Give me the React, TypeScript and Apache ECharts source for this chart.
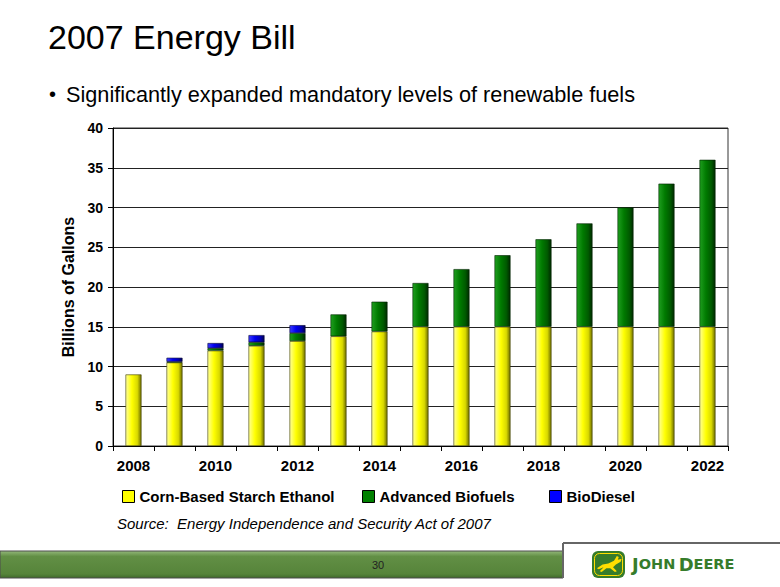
import React, { useEffect, useRef } from "react";
import * as echarts from "echarts";

const years = ["2008","2009","2010","2011","2012","2013","2014","2015","2016","2017","2018","2019","2020","2021","2022"];
const cornEthanol = [9.0, 10.5, 12.0, 12.6, 13.2, 13.8, 14.4, 15, 15, 15, 15, 15, 15, 15, 15];
const advancedBiofuels = [0, 0.1, 0.3, 0.45, 1.0, 2.75, 3.75, 5.5, 7.25, 9.0, 11.0, 13.0, 15.0, 18.0, 21.0];
const bioDiesel = [0, 0.5, 0.65, 0.9, 1.0, 0, 0, 0, 0, 0, 0, 0, 0, 0, 0];
const seriesNames = ["Corn-Based Starch Ethanol", "Advanced Biofuels", "BioDiesel"];
const yTicks = { min: 0, max: 40, interval: 5 };

const FONT = "Arial, 'Liberation Sans', Helvetica, sans-serif";

const deerPath =
  "M2 14 L8 10 L14 9 L20 6 L23 1 L25 2 L24 5 L28 4 L27 7 L22 10 L19 13 L23 17 L21 18 L16 14 L12 14 L7 18 L5 17 L9 13 L4 15 Z";
echarts.graphic.registerShape("deer", (echarts.graphic as any).extendPath(deerPath, {}));

function grad(stops: [number, string][]) {
  return new echarts.graphic.LinearGradient(0, 0, 1, 0, stops.map(([offset, color]) => ({ offset, color })));
}

const nz = (arr: number[]) => arr.map((v) => (v === 0 ? null : v));

export default function App() {
  const ref = useRef<HTMLDivElement>(null);
  useEffect(() => {
    if (!ref.current) return;
    const chart = echarts.init(ref.current, undefined, { renderer: "svg" });
    const yellow = grad([[0, "#ffff99"], [0.4, "#ffff00"], [0.75, "#d9d900"], [1, "#6e6e00"]]);
    const green = grad([[0, "#1f9f1f"], [0.4, "#007a00"], [0.75, "#005a00"], [1, "#002a00"]]);
    const blue = grad([[0, "#3a3aff"], [0.4, "#0000ee"], [0.75, "#0000b0"], [1, "#000055"]]);
    const legendItem = (name: string, color: string, left: number) => ({
      show: true,
      left,
      top: 484,
      itemWidth: 12,
      itemHeight: 12,
      itemGap: 6,
      data: [{ name, icon: "rect", itemStyle: { color, borderColor: "#000", borderWidth: 1 } }],
      textStyle: { fontFamily: FONT, fontWeight: "bold", fontSize: 15, color: "#000" },
    });
    chart.setOption({
      animation: false,
      backgroundColor: "#ffffff",
      grid: { left: 113, right: 52, top: 128, bottom: 141, show: true, borderColor: "#333", borderWidth: 1 },
      legend: [
        legendItem(seriesNames[0], "#ffff00", 117),
        legendItem(seriesNames[1], "#008000", 357),
        legendItem(seriesNames[2], "#0000ff", 544),
      ],
      xAxis: {
        type: "category",
        data: years,
        axisLine: { lineStyle: { color: "#000", width: 1 } },
        axisTick: { show: true, interval: 0, length: 5, lineStyle: { color: "#000" } },
        axisLabel: { interval: 1, fontFamily: FONT, fontWeight: "bold", fontSize: 15, color: "#000", margin: 12 },
      },
      yAxis: {
        type: "value",
        min: yTicks.min,
        max: yTicks.max,
        interval: yTicks.interval,
        name: "Billions of Gallons",
        nameLocation: "middle",
        nameGap: 37,
        nameTextStyle: { fontFamily: FONT, fontWeight: "bold", fontSize: 16, color: "#000" },
        axisLine: { show: true, lineStyle: { color: "#000" } },
        axisTick: { show: true, length: 5, lineStyle: { color: "#000" } },
        axisLabel: { fontFamily: FONT, fontWeight: "bold", fontSize: 14, color: "#000", margin: 10 },
        splitLine: { show: true, lineStyle: { color: "#222", width: 1 } },
      },
      series: [
        { name: seriesNames[0], type: "bar", stack: "t", barWidth: 16, data: nz(cornEthanol), itemStyle: { color: yellow, borderColor: "#3a3a00", borderWidth: 0.6 } },
        { name: seriesNames[1], type: "bar", stack: "t", barWidth: 16, data: nz(advancedBiofuels), itemStyle: { color: green, borderColor: "#002200", borderWidth: 0.6 } },
        { name: seriesNames[2], type: "bar", stack: "t", barWidth: 16, data: nz(bioDiesel), itemStyle: { color: blue, borderColor: "#000033", borderWidth: 0.6 } },
      ],
      graphic: [
        { type: "text", left: 48, top: 20, style: { text: "2007 Energy Bill", font: `34px ${FONT}`, fill: "#000" } },
        { type: "text", left: 49, top: 84, style: { text: "•", font: `20px ${FONT}`, fill: "#000" } },
        { type: "text", left: 66, top: 83, style: { text: "Significantly expanded mandatory levels of renewable fuels", font: `21.7px ${FONT}`, fill: "#000" } },
        { type: "text", left: 117, top: 516, style: { text: "Source:  Energy Independence and Security Act of 2007", font: `italic 15px ${FONT}`, fill: "#000" } },
        {
          type: "rect",
          shape: { x: 0, y: 551, width: 563, height: 27 },
          style: {
            fill: new echarts.graphic.LinearGradient(0, 0, 0, 1, [
              { offset: 0, color: "#93b87a" },
              { offset: 0.2, color: "#628f45" },
              { offset: 0.85, color: "#56843a" },
              { offset: 1, color: "#3f6a2a" },
            ]),
            stroke: "#4d4d4d",
            lineWidth: 1,
          },
        },
        { type: "line", shape: { x1: 563, y1: 543, x2: 780, y2: 543 }, style: { stroke: "#666", lineWidth: 2 } },
        { type: "line", shape: { x1: 563, y1: 543, x2: 563, y2: 578 }, style: { stroke: "#666", lineWidth: 2 } },
        { type: "text", x: 378, y: 565, style: { text: "30", font: `11px ${FONT}`, fill: "#222", align: "center", verticalAlign: "middle" } },
        { type: "rect", shape: { x: 592, y: 551, width: 33, height: 27, r: 6 }, style: { fill: "#367c2b" } },
        { type: "rect", shape: { x: 594.5, y: 553.5, width: 28, height: 22, r: 5 }, style: { fill: "none", stroke: "#ffde00", lineWidth: 1 } },
        { type: "deer", x: 595, y: 555, scaleX: 0.95, scaleY: 0.95, style: { fill: "#ffde00" } },
        {
          type: "text",
          left: 632,
          top: 555,
          style: {
            text: "{a|J}{b|OHN} {a|D}{b|EERE}",
            rich: {
              a: { font: `bold 18px 'DejaVu Sans', ${FONT}`, fill: "#367c2b" },
              b: { font: `bold 14.5px 'DejaVu Sans', ${FONT}`, fill: "#367c2b" },
            },
          },
        },
      ],
    });
    return () => chart.dispose();
  }, []);
  return <div ref={ref} style={{ position: "fixed", left: 0, top: 0, width: 780, height: 587, background: "#fff" }} />;
}
